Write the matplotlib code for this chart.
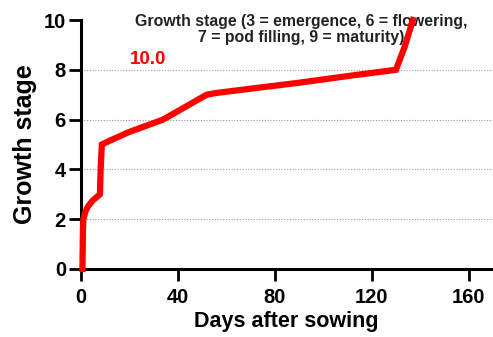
import matplotlib.pyplot as plt

plt.rcParams['font.family'] = ['Liberation Sans', 'DejaVu Sans']
plt.rcParams['font.weight'] = 'bold'
plt.rcParams['axes.labelweight'] = 'bold'

# days after sowing vs growth stage
days = [0.8, 1.0, 1.2, 2.0, 3.0, 5.0, 8.0, 8.3, 8.8, 12, 20, 27, 34, 43, 52, 56, 70, 90, 111, 130, 133.5, 137]
stage = [0.0, 1.5, 2.0, 2.3, 2.5, 2.75, 3.0, 4.0, 5.0, 5.15, 5.5, 5.75, 6.0, 6.5, 7.0, 7.07, 7.24, 7.48, 7.76, 8.0, 8.9, 10.0]

xticks = [0, 40, 80, 120, 160]
yticks = [0, 2, 4, 6, 8, 10]

fig = plt.figure(figsize=(4.93, 3.37), dpi=100)
ax = fig.add_axes([80.5 / 493, 1 - 269 / 337, (493 - 80.5) / 493, (269 - 20) / 337])

ax.plot(days, stage, color='#ff0000', lw=4.5, solid_joinstyle='miter', clip_on=False, zorder=3)

ax.set_xlim(0, 170)
ax.set_ylim(0, 10)
ax.set_xticks(xticks)
ax.set_yticks(yticks)
for y in [2, 4, 6, 8]:
    ax.axhline(y, color='#999999', lw=0.8, ls=(0, (1, 1.5)), zorder=1)

for s in ['top', 'right']:
    ax.spines[s].set_visible(False)
for s in ['left', 'bottom']:
    ax.spines[s].set_linewidth(2.2)
ax.tick_params(width=2, length=8.5, labelsize=14.5)
ax.tick_params(axis='x', pad=5)
ax.tick_params(axis='y', pad=2)

ax.set_xlabel('Days after sowing', fontsize=15.5, fontweight='bold', labelpad=3)
ax.set_ylabel('Growth stage', fontsize=18, fontweight='bold', labelpad=5)

ax.text(28, 8.4, '10.0', color='#ff0000', fontsize=13.5, fontweight='bold', ha='center', va='center')
ax.text(90.8, 9.6, 'Growth stage (3 = emergence, 6 = flowering,\n7 = pod filling, 9 = maturity)',
        fontsize=11.4, fontweight='bold', color='#222222', ha='center', va='center',
        linespacing=1.08, zorder=2)

fig.savefig('out.png', dpi=100)
